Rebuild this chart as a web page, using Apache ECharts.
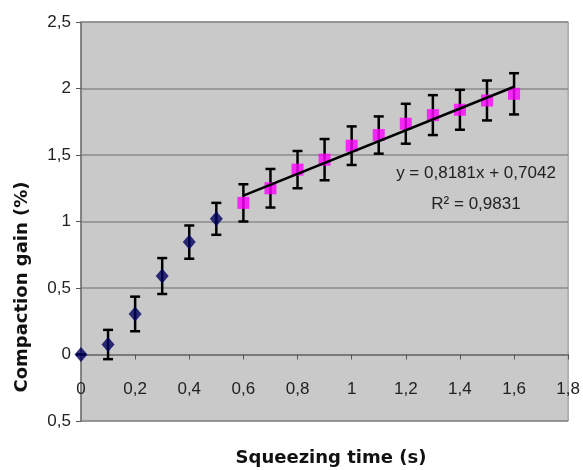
<!DOCTYPE html>
<html><head><meta charset="utf-8">
<script src="https://cdn.jsdelivr.net/npm/echarts@6/dist/echarts.min.js"></script>
<style>html,body{margin:0;padding:0;background:#fff}#c{width:583px;height:470px}</style>
</head><body><div id="c"></div>
<script>
// Series 1 (blue diamonds)
const xBlue = [0, 0.1, 0.2, 0.3, 0.4, 0.5];
const yBlue = [0, 0.075, 0.305, 0.59, 0.845, 1.02];
const errBlue = [0, 0.11, 0.13, 0.135, 0.125, 0.12];
// Series 2 (magenta squares)
const xPink = [0.6, 0.7, 0.8, 0.9, 1.0, 1.1, 1.2, 1.3, 1.4, 1.5, 1.6];
const yPink = [1.14, 1.25, 1.39, 1.465, 1.57, 1.65, 1.735, 1.8, 1.84, 1.91, 1.96];
const errPink = [0.14, 0.145, 0.14, 0.155, 0.145, 0.14, 0.15, 0.15, 0.15, 0.15, 0.155];
// Trend line endpoints (y = 0.8181x + 0.7042)
const trendX = [0.6, 1.6];
const trendY = [1.195, 2.013];
const eqText = 'y = 0,8181x + 0,7042';
const r2Text = 'R\u00b2 = 0,9831';
const xTitle = 'Squeezing time (s)';
const yTitle = 'Compaction gain (%)';

const fmt = v => String(Math.abs(Math.round(v*10)/10)).replace('.', ',');
const pts = (xs, ys) => xs.map((x, i) => [x, ys[i]]);
const errs = (xs, ys, es) => xs.map((x, i) => [x, ys[i] - es[i], ys[i] + es[i]]);

function errRender(params, api) {
  const x = api.value(0);
  const lo = api.coord([x, api.value(1)]);
  const hi = api.coord([x, api.value(2)]);
  const w = 5;
  const st = {stroke: '#000', lineWidth: 2.5};
  return {type: 'group', children: [
    {type: 'line', shape: {x1: lo[0], y1: lo[1], x2: hi[0], y2: hi[1]}, style: st},
    {type: 'line', shape: {x1: lo[0]-w, y1: lo[1], x2: lo[0]+w, y2: lo[1]}, style: st},
    {type: 'line', shape: {x1: hi[0]-w, y1: hi[1], x2: hi[0]+w, y2: hi[1]}, style: st}
  ]};
}

const chart = echarts.init(document.getElementById('c'), null, {renderer: 'canvas'});
const font = 'Liberation Sans, Arial, sans-serif';
const gridTop = 22, gridBottom = 49, H = 470;
const plotH = H - gridTop - gridBottom;
// offset of x axis so that it sits on y = 0 (range -0.5..2.5)
const xOffset = -plotH * (0.5 / 3);
chart.setOption({
  animation: false,
  backgroundColor: '#fff',
  grid: {left: 81, right: 13, top: gridTop, bottom: gridBottom, show: true,
         backgroundColor: '#c9c9c9', borderColor: '#8a8a8a', borderWidth: 1},
  xAxis: {type: 'value', min: 0, max: 1.8, interval: 0.2, offset: xOffset,
    axisLine: {onZero: false, lineStyle: {color: '#707070', width: 1.5}},
    axisTick: {show: true, length: 5, lineStyle: {color: '#555'}},
    axisLabel: {margin: 26, fontFamily: font, fontSize: 17, color: '#222', formatter: fmt},
    splitLine: {show: false}},
  yAxis: {type: 'value', min: -0.5, max: 2.5, interval: 0.5,
    axisLine: {show: true, lineStyle: {color: '#707070', width: 1.5}},
    axisTick: {show: true, length: 5, lineStyle: {color: '#555'}},
    axisLabel: {margin: 10, fontFamily: font, fontSize: 17, color: '#222', formatter: fmt},
    splitLine: {show: true, lineStyle: {color: '#8a8a8a', width: 1.5}}},
  series: [
    {type: 'custom', renderItem: errRender, data: errs(xBlue, yBlue, errBlue), z: 3},
    {type: 'custom', renderItem: errRender, data: errs(xPink, yPink, errPink), z: 3},
    {type: 'scatter', data: pts(xBlue, yBlue), symbol: 'diamond', symbolSize: [13, 15],
     itemStyle: {color: '#00005e'}, z: 5},
    {type: 'scatter', data: pts(xPink, yPink), symbol: 'rect', symbolSize: 12,
     itemStyle: {color: '#ff00ff'}, z: 5},
    {type: 'line', data: pts(trendX, trendY), symbol: 'none', lineStyle: {color: '#000', width: 2.5}, z: 6}
  ],
  graphic: [
    {type: 'text', x: 476, y: 173, style: {text: eqText, fontFamily: font, fontSize: 17, fill: '#222', align: 'center', verticalAlign: 'middle'}},
    {type: 'text', x: 476, y: 204, style: {text: r2Text, fontFamily: font, fontSize: 17, fill: '#222', align: 'center', verticalAlign: 'middle'}},
    {type: 'text', x: 331, y: 458, style: {text: xTitle, fontFamily: 'DejaVu Sans, sans-serif', fontWeight: 'bold', fontSize: 18, fill: '#111', align: 'center', verticalAlign: 'middle'}},
    {type: 'text', x: 22, y: 287, rotation: Math.PI/2, style: {text: yTitle, fontFamily: 'DejaVu Sans, sans-serif', fontWeight: 'bold', fontSize: 18, fill: '#111', align: 'center', verticalAlign: 'middle'}}
  ]
});
</script></body></html>
